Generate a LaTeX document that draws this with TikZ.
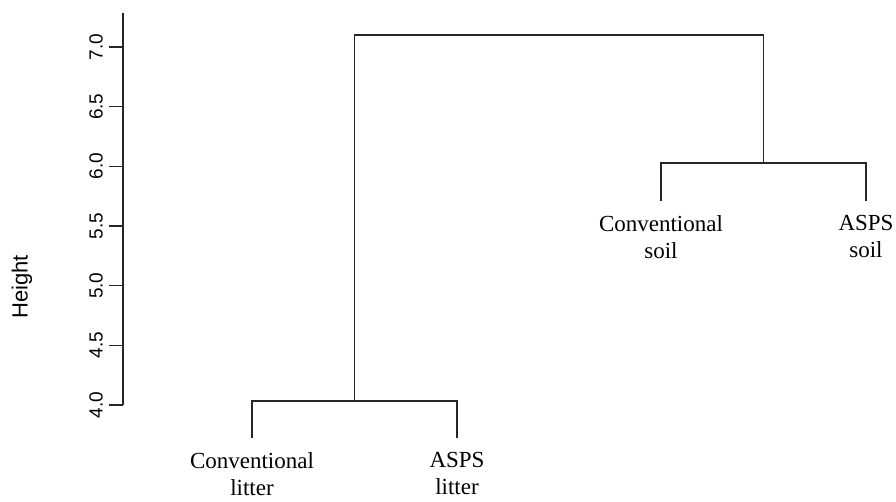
\documentclass[tikz,border=0pt]{standalone}
\usepackage{fontspec}
\setmainfont{Liberation Serif}
\setsansfont{Liberation Sans}
\begin{document}
\begin{tikzpicture}[x=1pt,y=-1pt,
  dend/.style={line width=1.1pt,draw=black!85},
  leaflab/.style={anchor=north,align=center,inner sep=0pt,font=\fontsize{23}{27}\selectfont},
  ticklab/.style={rotate=90,anchor=south,inner sep=0pt,font=\sffamily\fontsize{19}{22}\selectfont}]
\useasboundingbox (0,0) rectangle (896,501);
% axis
\draw[dend] (123,13) -- (123,405);
\foreach \v/\yy in {4.0/405,4.5/345.3,5.0/285.7,5.5/226,6.0/166.3,6.5/106.7,7.0/47}{
  \draw[dend] (109,\yy) -- (123,\yy);
  \node[ticklab] at (103,\yy) {\v};
}
\node[rotate=90,font=\sffamily\fontsize{22}{26}\selectfont,inner sep=0pt] (ht) at (22,287) {Height};
% leaves
\coordinate (l1) at (252,438);
\coordinate (l2) at (457,438);
\coordinate (l3) at (661,201);
\coordinate (l4) at (866,201);
\coordinate (m1) at (354.5,401);
\coordinate (m2) at (763.5,163);
\coordinate (top) at (559,35);
\draw[dend] (l1) |- (m1) -| (l2);
\draw[dend] (l3) |- (m2) -| (l4);
\draw[dend] (m1) |- (top) -| (m2);
\node[leaflab] (t1) at ([yshift=-14]l1) {Conventional\\litter};
\node[leaflab] (t2) at ([yshift=-14]l2) {ASPS\\litter};
\node[leaflab] (t3) at ([yshift=-14]l3) {Conventional\\soil};
\node[leaflab] (t4) at ([yshift=-14]l4) {ASPS\\soil};
\end{tikzpicture}
\end{document}
